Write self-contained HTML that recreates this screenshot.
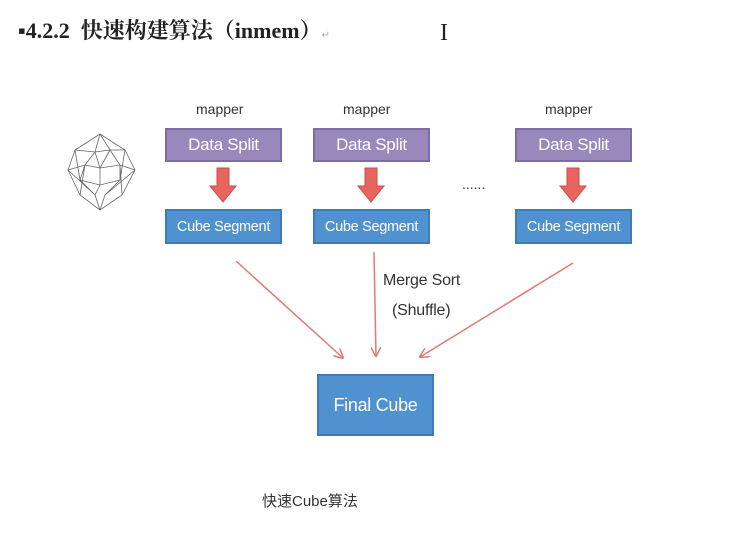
<!DOCTYPE html>
<html><head><meta charset="utf-8"><style>
body{margin:0;width:733px;height:534px;background:#fff;position:relative;overflow:hidden;font-family:"Liberation Sans","Noto Sans CJK SC",sans-serif}
.t{position:absolute;white-space:nowrap}
.b{position:absolute;color:#fff;display:flex;align-items:center;justify-content:center;box-sizing:border-box;letter-spacing:-0.3px}
.ds{background:#9a88bd;border:2px solid #7e6ca6;width:117px;height:34px;top:128px;font-size:17px}
.cs{background:#4f92cf;border:2px solid #3d7cb8;width:117px;height:35px;top:209px;font-size:14.5px}
.m{font-size:14px;color:#333;top:101px}
</style></head><body>
<div class="t" style="left:18px;top:14px;font-family:'Liberation Serif','Noto Serif CJK SC',serif;font-weight:bold;font-size:22px;color:#222">▪4.2.2&nbsp; 快速构建算法（inmem）<span style="font-size:10px;color:#aaa;font-weight:normal">↵</span></div>
<div class="t" style="left:440px;top:20px;font-family:'Liberation Serif',serif;font-size:24px;color:#222">I</div>
<div class="t m" style="left:196px">mapper</div>
<div class="t m" style="left:343px">mapper</div>
<div class="t m" style="left:545px">mapper</div>
<div class="b ds" style="left:165px">Data Split</div>
<div class="b ds" style="left:313px">Data Split</div>
<div class="b ds" style="left:515px">Data Split</div>
<div class="b cs" style="left:165px">Cube Segment</div>
<div class="b cs" style="left:313px">Cube Segment</div>
<div class="b cs" style="left:515px">Cube Segment</div>
<div class="t" style="left:462px;top:176px;font-size:14px;color:#333">......</div>
<div class="b" style="left:317px;top:374px;width:117px;height:62px;background:#4f92cf;border:2px solid #3d7cb8;font-size:18px">Final Cube</div>
<div class="t" style="left:383px;top:272px;font-size:16px;color:#333;letter-spacing:-0.2px">Merge Sort</div>
<div class="t" style="left:392px;top:302px;font-size:16px;color:#333;letter-spacing:-0.2px">(Shuffle)</div>
<div class="t" style="left:262px;top:490px;font-size:15px;color:#333">快速Cube算法</div>
<svg width="733" height="534" style="position:absolute;left:0;top:0">
<defs><marker id="a" markerWidth="10" markerHeight="10" refX="9" refY="5" orient="auto" markerUnits="userSpaceOnUse"><path d="M0,0 L10,5 L0,10" fill="none" stroke="#e07a74" stroke-width="1.5"/></marker></defs>
<g fill="#e8645c" stroke="#c9504a" stroke-width="1">
<path d="M217,168h12v18h7l-13,16l-13,-16h7z"/>
<path d="M365,168h12v18h7l-13,16l-13,-16h7z"/>
<path d="M567,168h12v18h7l-13,16l-13,-16h7z"/>
</g>
<g stroke="#e07a74" stroke-width="1.5" fill="none" marker-end="url(#a)">
<line x1="236" y1="261" x2="343" y2="358"/>
<line x1="374" y1="252" x2="376" y2="356"/>
<line x1="573" y1="263" x2="420" y2="357"/>
</g>
<g stroke="#666" stroke-width="0.8" fill="none">
<path d="M100,134 L75,150 L68,170 L80,195 L100,210 L122,195 L135,170 L125,150 Z"/>
<path d="M100,134 L95,152 L85,165 L80,195 M100,134 L110,150 L120,165 L122,195 M75,150 L95,152 L110,150 L125,150 M68,170 L85,165 L100,168 L120,165 L135,170 M80,180 L100,185 L120,180 M85,165 L80,180 L95,195 L100,210 M120,165 L120,180 L105,195 L100,210 M95,152 L100,168 L100,185 L95,195 M110,150 L100,168 M75,150 L80,180 M125,150 L120,180 M68,170 L95,195 M135,170 L105,195"/>
</g>
</svg>
</body></html>
